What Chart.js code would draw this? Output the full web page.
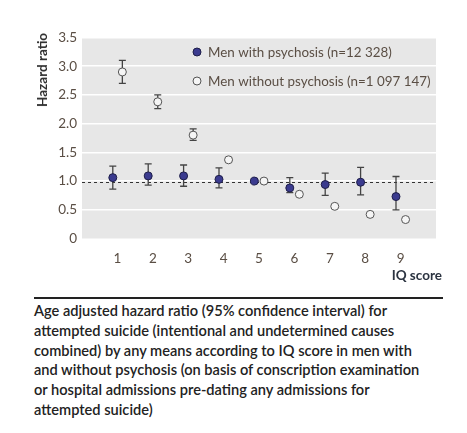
<!DOCTYPE html>
<html>
<head>
<meta charset="utf-8">
<script src="https://cdn.jsdelivr.net/npm/chart.js@4.4.0/dist/chart.umd.min.js"></script>
<style>
  body { margin: 0; background: #fff; font-family: Lato, sans-serif; }
  #wrap { position: relative; width: 467px; height: 433px; }
  #chartBox { position: absolute; left: 0; top: 0; width: 467px; height: 290px; }
  .ytitle { position: absolute; left: 42px; top: 70px; transform: translate(-50%, -50%) rotate(-90deg);
            font-weight: bold; font-size: 13.5px; color: #2e2e2e; white-space: nowrap; }
  .xtitle { position: absolute; right: 25px; top: 267px; font-weight: bold; font-size: 13.5px; color: #2b3340; }
  .rule { position: absolute; left: 34px; top: 297px; width: 409px; height: 1.5px; background: #222; }
  .caption { position: absolute; left: 34px; top: 301px; font-size: 14.6px; font-weight: 600;
             line-height: 19.8px; color: #222; white-space: nowrap; }
</style>
</head>
<body>
<div id="wrap">
  <div id="chartBox"><canvas id="hrChart"></canvas></div>
  <div class="ytitle">Hazard ratio</div>
  <div class="xtitle">IQ score</div>
  <div class="rule"></div>
  <div class="caption">Age adjusted hazard ratio (95% confidence interval) for<br>attempted suicide (intentional and undetermined causes<br>combined) by any means according to IQ score in men with<br>and without psychosis (on basis of conscription examination<br>or hospital admissions pre-dating any admissions for<br>attempted suicide)</div>
</div>
<script>
// data
const iqScores = [1, 2, 3, 4, 5, 6, 7, 8, 9];
const psychosisHR   = [1.06, 1.09, 1.09, 1.03, 1.00, 0.88, 0.94, 0.98, 0.73];
const psychosisLow  = [0.86, 0.93, 0.91, 0.88, null, 0.80, 0.75, 0.76, 0.50];
const psychosisHigh = [1.26, 1.30, 1.28, 1.23, null, 1.06, 1.14, 1.24, 1.08];
const noPsychosisHR   = [2.90, 2.38, 1.80, 1.37, 1.00, 0.77, 0.56, 0.42, 0.33];
const noPsychosisLow  = [2.70, 2.26, 1.71, 1.34, null, null, null, null, null];
const noPsychosisHigh = [3.10, 2.50, 1.91, 1.40, null, null, null, null, null];
const yTicks = [0, 0.5, 1.0, 1.5, 2.0, 2.5, 3.0, 3.5];
const seriesLabels = ['Men with psychosis (n=12 328)', 'Men without psychosis (n=1 097 147)'];

const tickColor = '#5a4e44';

function points(values, lows, highs, shift) {
    return iqScores.map((iq, i) => ({ x: iq + shift, y: values[i], lo: lows[i], hi: highs[i] }));
}

// grey plot background
const plotBg = {
    id: 'plotBg',
    beforeDraw(chart) {
        const { ctx, chartArea: a } = chart;
        ctx.save();
        ctx.fillStyle = '#e7e7e7';
        ctx.fillRect(a.left, a.top, a.right - a.left, a.bottom - a.top);
        ctx.restore();
    }
};

// reference line at 1 and error bars (behind the points)
const errorBars = {
    id: 'errorBars',
    beforeDatasetsDraw(chart) {
        const { ctx, chartArea: a, scales: { x, y } } = chart;
        ctx.save();
        const y1 = Math.round(y.getPixelForValue(1)) + 1.5;
        ctx.strokeStyle = '#333';
        ctx.lineWidth = 1;
        ctx.setLineDash([3, 3]);
        ctx.beginPath();
        ctx.moveTo(a.left, y1);
        ctx.lineTo(a.right, y1);
        ctx.stroke();
        ctx.setLineDash([]);

        ctx.strokeStyle = '#444';
        ctx.lineWidth = 1.3;
        chart.data.datasets.forEach(ds => {
            ds.data.forEach(p => {
                if (p.lo == null) return;
                const px = x.getPixelForValue(p.x);
                const top = y.getPixelForValue(p.hi);
                const bot = y.getPixelForValue(p.lo);
                ctx.beginPath();
                ctx.moveTo(px, top); ctx.lineTo(px, bot);
                ctx.moveTo(px - 3.5, top); ctx.lineTo(px + 3.5, top);
                ctx.moveTo(px - 3.5, bot); ctx.lineTo(px + 3.5, bot);
                ctx.stroke();
            });
        });
        ctx.restore();
    }
};

// legend sitting inside the plot
const innerLegend = {
    id: 'innerLegend',
    afterDraw(chart) {
        const { ctx, chartArea: a } = chart;
        ctx.save();
        ctx.font = '13.4px Lato, sans-serif';
        ctx.textBaseline = 'middle';
        chart.data.datasets.forEach((ds, i) => {
            const cx = a.left + 115;
            const cy = a.top + 14.5 + i * 29;
            ctx.beginPath();
            ctx.arc(cx, cy, 4, 0, Math.PI * 2);
            ctx.fillStyle = ds.backgroundColor;
            ctx.fill();
            ctx.lineWidth = 1;
            ctx.strokeStyle = ds.borderColor;
            ctx.stroke();
            ctx.fillStyle = tickColor;
            ctx.fillText(ds.label, cx + 11, cy + 0.5);
        });
        ctx.restore();
    }
};

const hrCtx = document.getElementById('hrChart').getContext('2d');
const hrChart = new Chart(hrCtx, {
    type: 'scatter',
    data: {
        datasets: [{
            label: seriesLabels[0],
            data: points(psychosisHR, psychosisLow, psychosisHigh, -0.13),
            backgroundColor: '#3b3b8f',
            borderColor: '#1f1f4a',
            borderWidth: 1,
            pointRadius: 4,
            pointHoverRadius: 4
        }, {
            label: seriesLabels[1],
            data: points(noPsychosisHR, noPsychosisLow, noPsychosisHigh, 0.14),
            backgroundColor: '#f5f5f5',
            borderColor: '#555',
            borderWidth: 1,
            pointRadius: 4,
            pointHoverRadius: 4
        }]
    },
    options: {
        responsive: true,
        maintainAspectRatio: false,
        animation: false,
        layout: { padding: { top: 37.5, right: 31, bottom: 0, left: 0 } },
        plugins: {
            legend: { display: false },
            tooltip: { enabled: false }
        },
        scales: {
            x: {
                type: 'linear',
                min: 0,
                max: 10,
                afterFit: s => { s.height = 51.5; },
                afterBuildTicks: s => { s.ticks = iqScores.map(v => ({ value: v })); },
                grid: { display: false },
                border: { display: false },
                ticks: { color: tickColor, font: { family: 'Lato', size: 13.5 }, padding: 4 }
            },
            y: {
                min: 0,
                max: 3.5,
                afterFit: s => { s.width = 82; },
                afterBuildTicks: s => { s.ticks = yTicks.map(v => ({ value: v })); },
                grid: {
                    color: c => c.tick && c.tick.value === 0 ? 'rgba(0,0,0,0)' : '#ffffff',
                    lineWidth: 1.5,
                    drawTicks: false
                },
                border: { display: false },
                ticks: {
                    color: tickColor,
                    font: { family: 'Lato', size: 13.5 },
                    padding: 5,
                    callback: v => v === 0 ? '0' : v.toFixed(1)
                }
            }
        }
    },
    plugins: [plotBg, errorBars, innerLegend]
});
</script>
</body>
</html>
